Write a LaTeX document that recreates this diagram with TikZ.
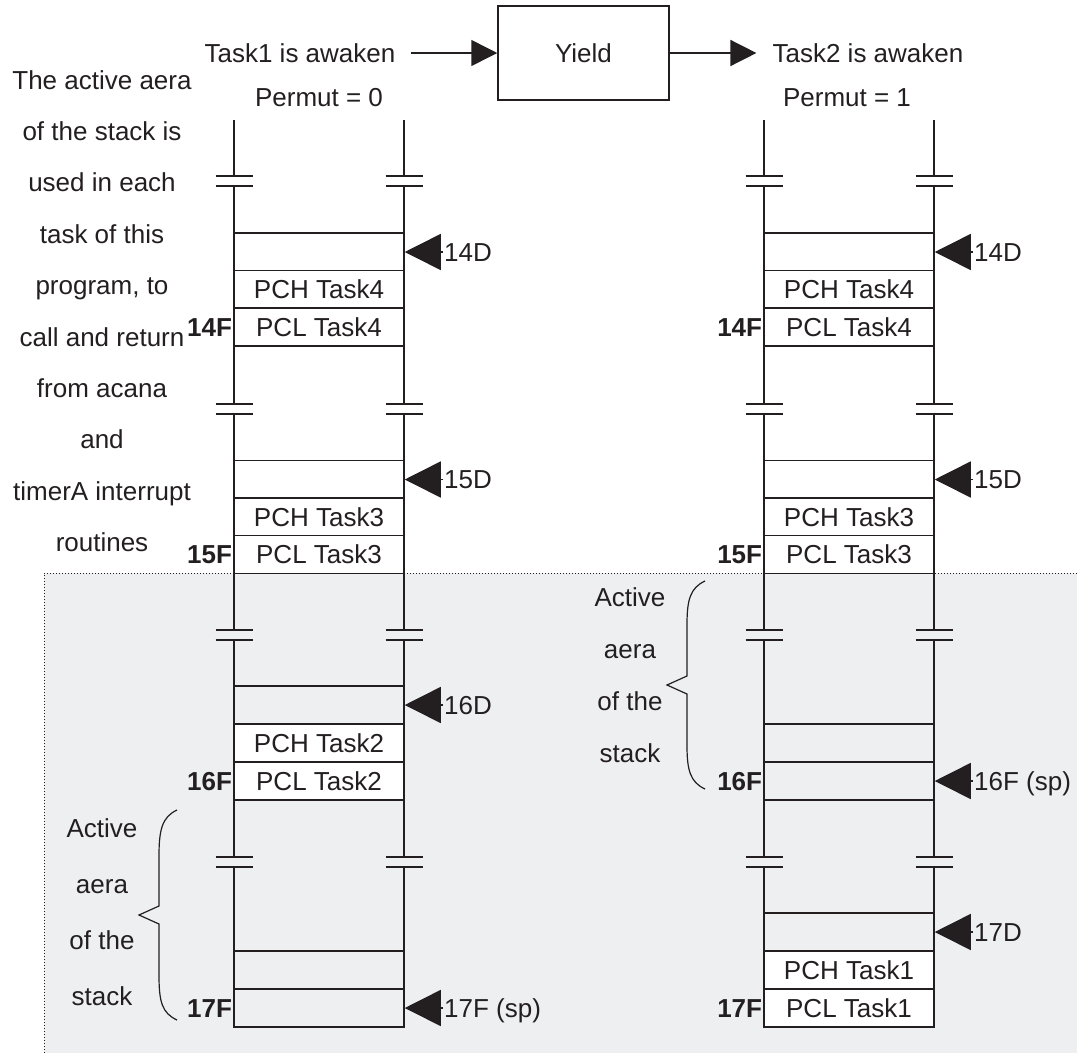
\documentclass[tikz,border=0pt]{standalone}
\usepackage{fontspec}
\setmainfont{Liberation Sans}
\usetikzlibrary{arrows.meta}
\definecolor{ink}{HTML}{231F20}
\definecolor{bgc}{HTML}{EEEFF1}
\begin{document}
\begin{tikzpicture}[x=1pt,y=-1pt,
  every node/.style={text=ink},
  txt/.style={font=\fontsize{26}{31}\selectfont, text height=18.6pt, text depth=0pt},
  para/.style={font=\fontsize{26}{#1}\selectfont, align=center, inner sep=0pt, anchor=north},
  cell/.style={draw=ink, line width=1.5pt, minimum width=170pt, minimum height=37.8pt, inner sep=0pt,
               font=\fontsize{26}{31}\selectfont, text height=18.6pt, text depth=0pt},
  wcell/.style={cell, fill=white},
  addr/.style={font=\fontsize{26}{31}\selectfont\bfseries, text height=18.6pt, text depth=0pt, anchor=east, inner sep=1pt},
  plab/.style={font=\fontsize{26}{31}\selectfont, text height=18.6pt, text depth=0pt, anchor=west, inner sep=1pt},
  ptr/.style={draw=ink, line width=1.5pt, -{Triangle[length=36pt,width=36pt]}},
  flow/.style={draw=ink, line width=1.5pt, -{Triangle[length=26pt,width=26pt]}},
  stk/.style={draw=ink, line width=1.5pt},
  brc/.style={draw=ink, line width=1.2pt}
]
\useasboundingbox (0,0) rectangle (1077,1053);
% shaded area
\fill[bgc] (44,573) rectangle (1077,1053);
\draw[ink, dotted, line width=1pt] (1077,573) -- (44,573) -- (44,1053);

% header
\node[draw=ink, line width=1.5pt, minimum width=171pt, minimum height=94pt, txt] (yield) at (583.5,53) {Yield};
\node[txt, inner xsep=15pt] (t1) at (300,53) {Task1 is awaken};
\node[txt, inner xsep=16pt] (t2) at (868,53) {Task2 is awaken};
\node[txt] (p0) at (319,97) {Permut = 0};
\node[txt] (p1) at (847,97) {Permut = 1};
\draw[flow] (t1.east) -- (yield.west);
\draw[flow] (yield.east) -- (t2.west);

% left explanation
\node[para=51.4] (expl) at (102,70) {The active aera\\of the stack is\\used in each\\task of this\\program, to\\call and return\\from acana\\and\\timerA interrupt\\routines};

% stack side lines with breaks
\foreach \x in {234,404,764,934}{
  \draw[stk] (\x,120) -- (\x,176) (\x,186) -- (\x,404) (\x,414) -- (\x,630) (\x,640) -- (\x,857) (\x,867) -- (\x,1027);
  \foreach \y in {176,186,404,414,630,640,857,867}
    \draw[stk] (\x-18.5,\y) -- (\x+18.5,\y);
}

% ---------- left stack ----------
\node[cell]  (L14D) at (319,252) {};
\node[wcell] (L14H) at (319,289.5) {PCH Task4};
\node[wcell] (L14L) at (319,327) {PCL Task4};
\node[cell]  (L15D) at (319,479.5) {};
\node[wcell] (L15H) at (319,517) {PCH Task3};
\node[wcell] (L15L) at (319,554.5) {PCL Task3};
\node[cell]  (L16D) at (319,705) {};
\node[wcell] (L16H) at (319,743) {PCH Task2};
\node[wcell] (L16L) at (319,781) {PCL Task2};
\node[cell]  (L17A) at (319,970) {};
\node[cell]  (L17L) at (319,1008) {};

\node[addr] at (L14L.west) {14F};
\node[addr] at (L15L.west) {15F};
\node[addr] at (L16L.west) {16F};
\node[addr] at (L17L.west) {17F};

\node[plab] (lp14) at (443,252) {14D};
\node[plab] (lp15) at (443,479.5) {15D};
\node[plab] (lp16) at (443,705) {16D};
\node[plab] (lp17) at (443,1008) {17F (sp)};
\draw[ptr] (lp14.west) -- (L14D.east);
\draw[ptr] (lp15.west) -- (L15D.east);
\draw[ptr] (lp16.west) -- (L16D.east);
\draw[ptr] (lp17.west) -- (L17L.east);

% ---------- right stack ----------
\node[cell]  (R14D) at (849,252) {};
\node[wcell] (R14H) at (849,289.5) {PCH Task4};
\node[wcell] (R14L) at (849,327) {PCL Task4};
\node[cell]  (R15D) at (849,479.5) {};
\node[wcell] (R15H) at (849,517) {PCH Task3};
\node[wcell] (R15L) at (849,554.5) {PCL Task3};
\node[cell]  (R16A) at (849,743) {};
\node[cell]  (R16L) at (849,781) {};
\node[cell]  (R17D) at (849,932) {};
\node[wcell] (R17H) at (849,970) {PCH Task1};
\node[wcell] (R17L) at (849,1008) {PCL Task1};

\node[addr] at (R14L.west) {14F};
\node[addr] at (R15L.west) {15F};
\node[addr] at (R16L.west) {16F};
\node[addr] at (R17L.west) {17F};

\node[plab] (rp14) at (973,252) {14D};
\node[plab] (rp15) at (973,479.5) {15D};
\node[plab] (rp16) at (973,781) {16F (sp)};
\node[plab] (rp17) at (973,932) {17D};
\draw[ptr] (rp14.west) -- (R14D.east);
\draw[ptr] (rp15.west) -- (R15D.east);
\draw[ptr] (rp16.west) -- (R16L.east);
\draw[ptr] (rp17.west) -- (R17D.east);

% braces and their texts
\draw[brc] (705,581) .. controls (690,588) and (687,600) .. (687,625) -- (687,676) -- (667,685) -- (687,694) -- (687,745) .. controls (687,770) and (690,782) .. (705,789);
\node[para=52] (actR) at (630,587.5) {Active\\aera\\of the\\stack};
\draw[brc] (177,810) .. controls (162,817) and (159,830) .. (159,856) -- (159,906) -- (139,915) -- (159,924) -- (159,975) .. controls (159,1002) and (162,1013) .. (177,1020);
\node[para=56] (actL) at (102,818.5) {Active\\aera\\of the\\stack};
\end{tikzpicture}
\end{document}
